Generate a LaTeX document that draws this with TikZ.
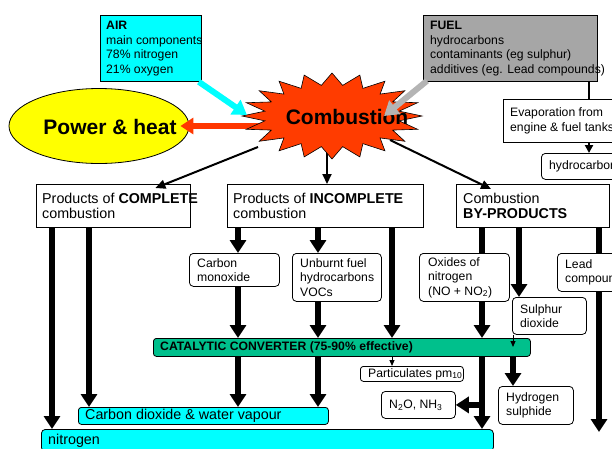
\documentclass[tikz,border=0pt]{standalone}
\usepackage{fontspec}
\setmainfont{Liberation Sans}
\usetikzlibrary{arrows.meta,positioning,shapes.geometric}
\definecolor{burst}{RGB}{255,60,0}
\definecolor{arrowred}{RGB}{255,55,0}
\definecolor{fuelgray}{RGB}{166,166,166}
\definecolor{arrowgray}{RGB}{180,180,180}
\definecolor{catgreen}{RGB}{0,192,140}
\definecolor{aqua}{RGB}{0,255,255}
\definecolor{yel}{RGB}{255,255,0}
\newcommand\txtS{\fontsize{12.2}{14.5}\selectfont}
\newcommand\txtM{\fontsize{14.3}{15.5}\selectfont}
\newcommand\txtL{\fontsize{21}{24}\selectfont\bfseries}
\begin{document}
\begin{tikzpicture}[x=1pt,y=-1pt,
  box/.style={draw, line width=0.8pt, fill=white, inner sep=0pt, anchor=north west},
  rbox/.style={box, rounded corners=4pt},
  txt/.style={inner sep=0pt, align=left, anchor=west, font=\txtS},
  thk/.style={line width=5.5pt, -{Triangle[width=16pt,length=13pt]}},
  thkline/.style={line width=5.5pt},
  med/.style={line width=2pt, -{Triangle[width=9pt,length=10pt]}},
  thn/.style={line width=1pt, -{Triangle[width=5pt,length=6pt]}},
  fat/.style={line width=6pt, -{Triangle[width=17pt,length=14pt]}}]
\useasboundingbox (0,0) rectangle (612,448);
\clip (0,0) rectangle (612,448);
% column coordinates
\coordinate (x1) at (52,0);
\coordinate (x2) at (89,0);
\coordinate (x3) at (238,0);
\coordinate (x4) at (318,0);
\coordinate (x5) at (392,0);
\coordinate (x6) at (482,0);
\coordinate (x7) at (519,0);
\coordinate (x8) at (513,0);
\coordinate (x9) at (599,0);
\coordinate (x10) at (589,0);
\coordinate (x0) at (327,0);
% star anchors
\coordinate (sRed) at (262,126);
\coordinate (sComp) at (258,147);
\coordinate (sInc) at (327,152);
\coordinate (sBy) at (390,140);
\coordinate (airTip) at (247,115);
\coordinate (fuelTip) at (384,116);
\coordinate (leadEnd) at (599,432);
\coordinate (so2tip) at (513,347);
% power ellipse
\node[ellipse, draw, line width=0.8pt, fill=yel, minimum width=180pt, minimum height=75pt, inner sep=0pt] (power) at (99,126) {};
\node[inner sep=0pt, font=\txtL] (powerT) at (110,127) {Power \& heat};
% arrows from combustion (under star)
\draw[line width=6pt, arrowred, -{Triangle[width=16pt,length=13pt]}] (sRed) -- ([xshift=-9pt]power.east);
% boxes row 1
\node[box, minimum width=154pt, minimum height=43pt] (complete) at (36,184) {};
\node[txt, font=\txtM, right=6pt of complete.west] (completeT) {Products of \textbf{COMPLETE}\\combustion};
\node[box, minimum width=196pt, minimum height=43pt] (incomplete) at (227,184) {};
\node[txt, font=\txtM, right=6pt of incomplete.west] (incompleteT) {Products of \textbf{INCOMPLETE}\\combustion};
\node[box, minimum width=153pt, minimum height=43pt] (byprod) at (456,184) {};
\node[txt, font=\txtM, right=7pt of byprod.west] (byprodT) {Combustion\\\textbf{BY-PRODUCTS}};
\draw[med] (sComp) -- ([xshift=42pt,yshift=-4pt]complete.north);
\draw[med] (sInc) -- (x0 |- incomplete.north);
\draw[med] (sBy) -- ([xshift=35pt,yshift=-5pt]byprod.north west);
% star
\filldraw[fill=burst, draw=black, line width=0.6pt] plot[samples at={0,...,39}, variable=\k]
  ({332+ifthenelse(mod(\k,2)==0,90,68)*cos(\k*9+90)}, {116+ifthenelse(mod(\k,2)==0,43,31)*sin(\k*9+90)}) -- cycle;
\node[inner sep=0pt, font=\txtL] (comb) at (347,117) {Combustion};
% air & fuel
\node[box, fill=aqua, minimum width=101pt, minimum height=66pt] (air) at (100,15) {};
\node[txt, right=6pt of air.west] (airT) {\textbf{AIR}\\main components\\78\% nitrogen\\21\% oxygen};
\draw[fat, aqua] ([xshift=-3pt]air.south east) -- (airTip);
\node[box, fill=fuelgray, minimum width=174pt, minimum height=66pt] (fuel) at (423,15) {};
\node[txt, right=7pt of fuel.west] (fuelT) {\textbf{FUEL}\\hydrocarbons\\contaminants (eg sulphur)\\additives (eg. Lead compounds)};
\draw[fat, arrowgray] ([xshift=4pt,yshift=1pt]fuel.south west) -- (fuelTip);
% evaporation
\node[box, minimum width=130pt, minimum height=43pt] (evap) at (503,99) {};
\node[txt, right=7pt of evap.west] (evapT) {Evaporation from\\engine \& fuel tanks};
\node[rbox, minimum width=100pt, minimum height=26pt] (hydro) at (541,153) {};
\node[txt, right=8pt of hydro.west] (hydroT) {hydrocarbons};
\draw[line width=2pt] (x10 |- fuel.south) -- (x10 |- evap.north);
\draw[line width=2pt, -{Triangle[width=8pt,length=8pt]}] (x10 |- evap.south) -- (x10 |- hydro.north);
% second row boxes
\node[rbox, minimum width=90pt, minimum height=33pt] (co) at (189,253) {};
\node[txt, right=8pt of co.west] (coT) {Carbon\\monoxide};
\node[rbox, minimum width=89pt, minimum height=48pt] (unburnt) at (292,253) {};
\node[txt, right=8pt of unburnt.west] (unburntT) {Unburnt fuel\\hydrocarbons\\VOCs};
\node[rbox, minimum width=90pt, minimum height=48pt] (nox) at (419,253) {};
\node[txt, right=9pt of nox.west] (noxT) {Oxides of\\nitrogen\\(NO + NO\textsubscript{2})};
\node[rbox, minimum width=80pt, minimum height=38pt] (lead) at (557,253) {};
\node[txt, right=8pt of lead.west] (leadT) {Lead\\compounds};
\node[rbox, minimum width=74pt, minimum height=37pt] (so2) at (512,297) {};
\node[txt, right=8pt of so2.west] (so2T) {Sulphur\\dioxide};
% catalytic converter
\node[box, rounded corners=3pt, fill=catgreen, minimum width=377pt, minimum height=18pt] (cat) at (153,338) {};
\node[txt, font=\txtS\bfseries, right=7pt of cat.west] (catT) {CATALYTIC CONVERTER (75-90\% effective)};
% lower boxes
\node[rbox, rounded corners=3pt, minimum width=103pt, minimum height=15pt] (part) at (360,366) {};
\node[txt, right=8pt of part.west] (partT) {Particulates pm\textsubscript{10}};
\node[rbox, minimum width=74pt, minimum height=27pt] (n2o) at (381,391) {};
\node[txt, right=8pt of n2o.west] (n2oT) {N\textsubscript{2}O, NH\textsubscript{3}};
\node[rbox, minimum width=75pt, minimum height=38pt] (h2s) at (498,386) {};
\node[txt, right=8pt of h2s.west] (h2sT) {Hydrogen\\sulphide};
\node[rbox, rounded corners=3pt, fill=aqua, minimum width=250pt, minimum height=17pt] (co2) at (78,407) {};
\node[txt, font=\txtM, right=7pt of co2.west] (co2T) {Carbon dioxide \& water vapour};
\node[rbox, fill=aqua, minimum width=452pt, minimum height=22pt] (nitro) at (41,429) {};
\node[txt, font=\txtM, right=7pt of nitro.west] (nitroT) {nitrogen};
% thick arrows
\draw[thk] (x1 |- complete.south) -- (x1 |- nitro.north);
\draw[thk] (x2 |- complete.south) -- (x2 |- co2.north);
\draw[thk] (x3 |- incomplete.south) -- (x3 |- co.north);
\draw[thk] (x3 |- co.south) -- (x3 |- cat.north);
\draw[thk] (x3 |- cat.south) -- (x3 |- co2.north);
\draw[thk] (x4 |- incomplete.south) -- (x4 |- unburnt.north);
\draw[thk] (x4 |- unburnt.south) -- (x4 |- cat.north);
\draw[thk] (x4 |- cat.south) -- (x4 |- co2.north);
\draw[thk] (x5 |- incomplete.south) -- (x5 |- cat.north);
\draw[thn] (x5 |- cat.south) -- (x5 |- part.north);
\draw[thkline] (x6 |- byprod.south) -- (x6 |- nox.north);
\draw[thk] (x6 |- nox.south) -- (x6 |- cat.north);
\draw[thk] (x6 |- cat.south) -- (x6 |- nitro.north);
\draw[thk] (x6 |- n2o.east) -- (n2o.east);
\draw[thk] (x7 |- byprod.south) -- (x7 |- so2.north);
\draw[thn] (x8 |- so2.south) -- (so2tip);
\draw[thk] (x8 |- cat.south) -- (x8 |- h2s.north);
\draw[thkline] (x9 |- byprod.south) -- (x9 |- lead.north);
\draw[thk] (x9 |- lead.south) -- (leadEnd);
\end{tikzpicture}
\end{document}
